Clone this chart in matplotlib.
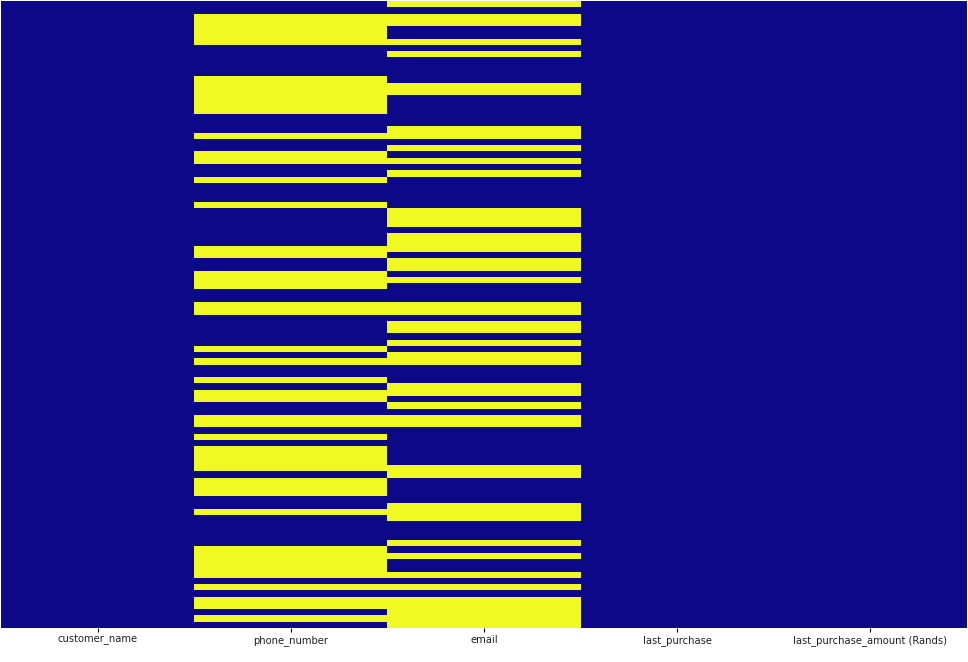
import numpy as np
import pandas as pd
import matplotlib
matplotlib.use("Agg")
import matplotlib.pyplot as plt
import seaborn as sns


columns = ["customer_name", "phone_number", "email", "last_purchase",
           "last_purchase_amount (Rands)"]
n_rows = 100

# row indices with missing values
phone_missing = [2, 3, 4, 5, 6, 12, 13, 14, 15, 16, 17, 21, 24, 25, 28, 32,
                 39, 40, 43, 44, 45, 48, 49, 55, 57, 60, 62, 63, 66, 67, 69,
                 71, 72, 73, 74, 76, 77, 78, 81, 87, 88, 89, 90, 91, 93, 95,
                 96, 98]
email_missing = [0, 2, 3, 6, 8, 13, 14, 20, 21, 23, 25, 27, 33, 34, 35, 37,
                 38, 39, 41, 42, 44, 48, 49, 51, 52, 54, 56, 57, 61, 62, 64,
                 66, 67, 74, 75, 80, 81, 82, 86, 88, 91, 93, 95, 96, 97, 98,
                 99]

missing = pd.DataFrame(False, index=range(n_rows), columns=columns)
missing.loc[phone_missing, "phone_number"] = True
missing.loc[email_missing, "email"] = True

fig = plt.figure(figsize=(9.68, 6.62), dpi=100)
ax = fig.add_axes([1 / 968, 1 - 628 / 662, 966 / 968, 627 / 662])
sns.heatmap(missing, cbar=False, yticklabels=False, cmap="plasma", ax=ax)
ax.tick_params(axis="x", labelsize=7.2, length=3, pad=2, labelcolor="#222222")
plt.setp(ax.get_xticklabels(), rotation=0)

fig.savefig("out.png", dpi=100)
